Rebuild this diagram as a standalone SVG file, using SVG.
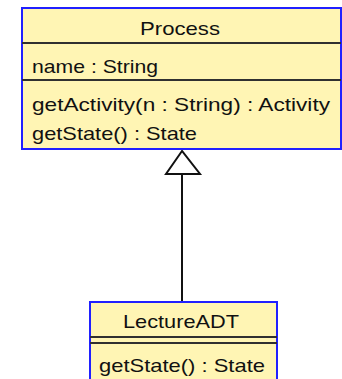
<svg xmlns="http://www.w3.org/2000/svg" width="342" height="379" viewBox="0 0 342 379">
<style>
.box{fill:#fff5b4;stroke:#2020ff;stroke-width:2}
.div{stroke:#303030;stroke-width:2;fill:none}
.t{font-family:"Liberation Sans",Arial,sans-serif;font-size:19px;fill:#111}
.c{text-anchor:middle}
.conn{stroke:#111;stroke-width:2;fill:none}
.head{fill:#fff;stroke:#111;stroke-width:2}
</style>
<rect width="342" height="379" fill="#fff"/>
<g id="connectors">
<line class="conn" x1="182" y1="174" x2="182" y2="302"/>
<polygon class="head" points="182,151 166,174 200,174"/>
</g>
<g id="Process">
<rect class="box" x="22" y="8" width="319" height="141"/>
<line class="div" x1="22" y1="43" x2="341" y2="43"/>
<line class="div" x1="22" y1="80" x2="341" y2="80"/>
<text class="t c" x="180" y="35" textLength="80" lengthAdjust="spacingAndGlyphs">Process</text>
<text class="t" x="32" y="73" textLength="126" lengthAdjust="spacingAndGlyphs">name : String</text>
<text class="t" x="32" y="111" textLength="298" lengthAdjust="spacingAndGlyphs">getActivity(n : String) : Activity</text>
<text class="t" x="32" y="140" textLength="165" lengthAdjust="spacingAndGlyphs">getState() : State</text>
</g>
<g id="LectureADT">
<rect class="box" x="90" y="302" width="187" height="100"/>
<line class="div" x1="90" y1="337" x2="277" y2="337"/>
<line class="div" x1="90" y1="343" x2="277" y2="343"/>
<text class="t c" x="181" y="328" textLength="116" lengthAdjust="spacingAndGlyphs">LectureADT</text>
<text class="t" x="99" y="372" textLength="166" lengthAdjust="spacingAndGlyphs">getState() : State</text>
</g>
</svg>
